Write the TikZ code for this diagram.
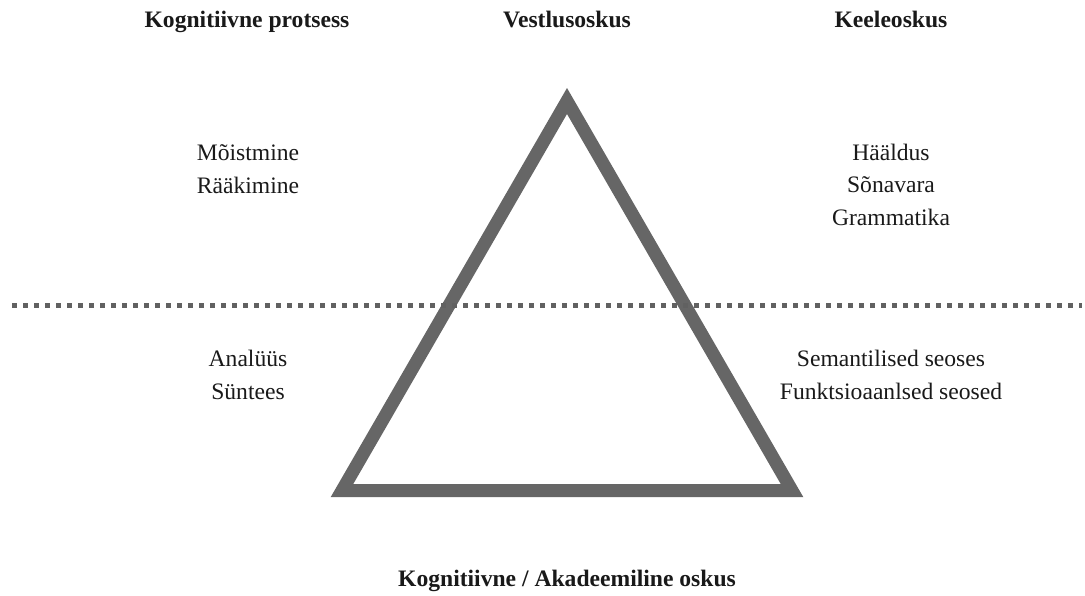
\documentclass[tikz,border=0pt]{standalone}
\usepackage{fontspec}
\setmainfont{Liberation Serif}
\begin{document}
\begin{tikzpicture}[x=1pt,y=-1pt,
  label/.style={font=\fontsize{23.6}{32.5}\selectfont, align=center, anchor=base, inner sep=0pt, text=black!90},
  heading/.style={label, font=\fontsize{23.6}{32.5}\selectfont\bfseries},
  frame/.style={draw=black!60, line width=13pt, line join=miter},
  divider/.style={draw=black!62, line width=5pt, dash pattern=on 5pt off 6pt}]
  \useasboundingbox (0,0) rectangle (1085,595);

  % column headings
  \node[heading] (kp) at (247,27) {Kognitiivne protsess};
  \node[heading] (vo) at (567,27) {Vestlusoskus};
  \node[heading] (ko) at (891,27) {Keeleoskus};

  % the triangle
  \coordinate (top) at (567,101);
  \coordinate (bl) at (342,490.5);
  \coordinate (br) at (792,490.5);
  \draw[frame] (top) -- (bl) -- (br) -- cycle;

  % dotted divider
  \coordinate (dl) at (12,305);
  \coordinate (dr) at (1082,305);
  \draw[divider] (dl) -- (dr);

  % upper row (anchored at the baseline of the last line)
  \node[label] (up1) at (248,193) {Mõistmine\\Rääkimine};
  \node[label] (up2) at (891,225) {Hääldus\\Sõnavara\\Grammatika};

  % lower row
  \node[label] (lo1) at (248,399) {Analüüs\\Süntees};
  \node[label] (lo2) at (891,399) {Semantilised seoses\\Funktsioaanlsed seosed};

  % bottom heading
  \node[heading] (ka) at (567,586) {Kognitiivne / Akadeemiline oskus};
\end{tikzpicture}
\end{document}
